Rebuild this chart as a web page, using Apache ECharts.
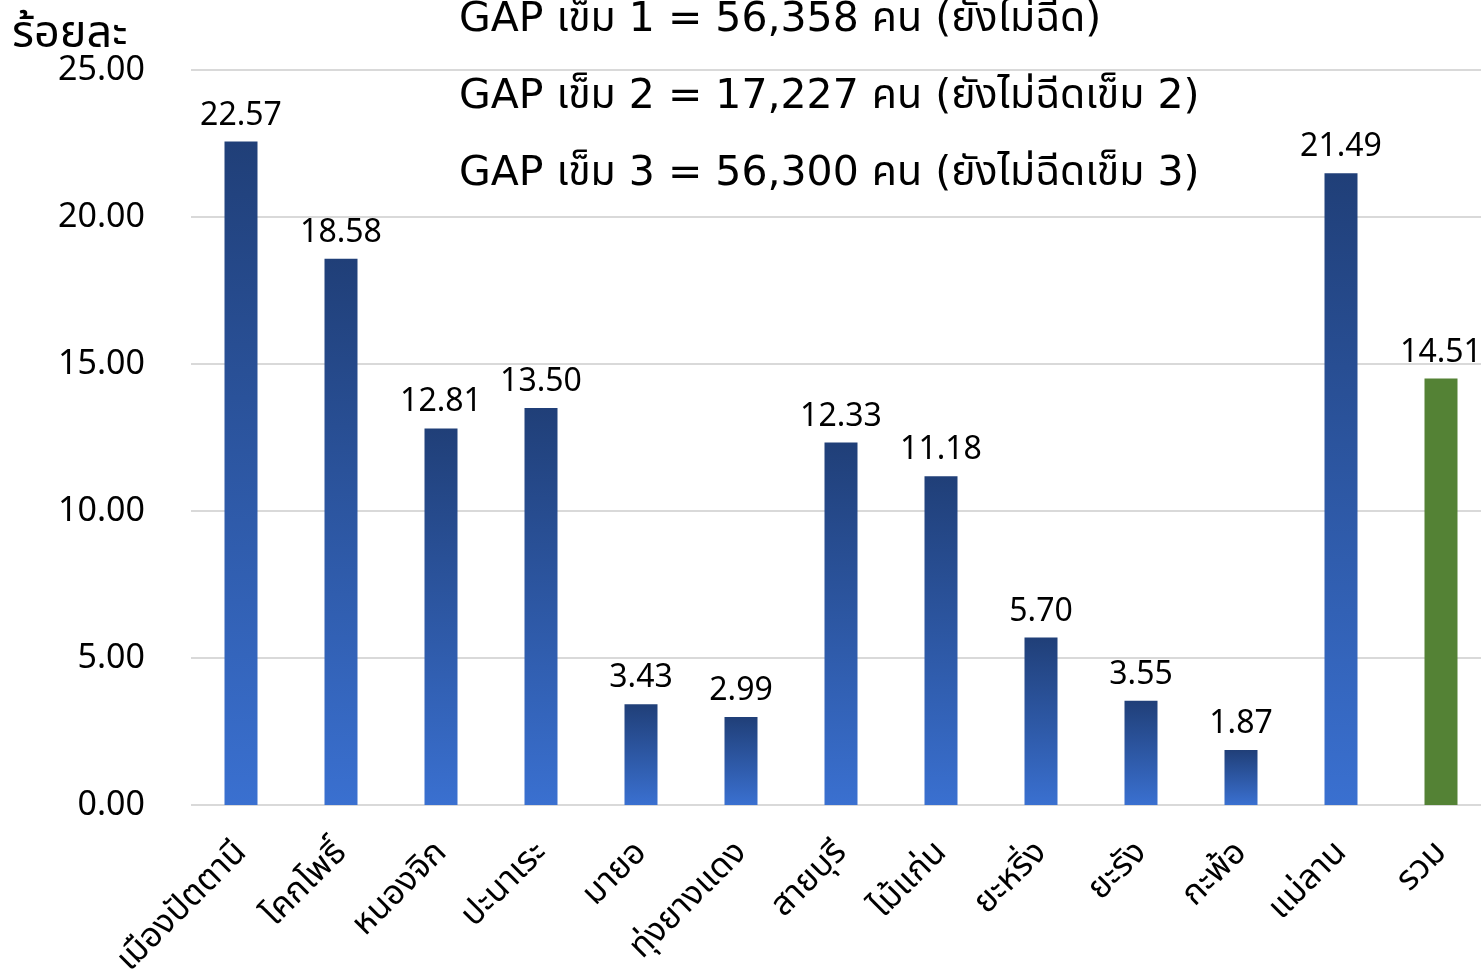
<!DOCTYPE html>
<html>
<head>
<meta charset="utf-8">
<script src="https://cdn.jsdelivr.net/npm/echarts@6/dist/echarts.min.js"></script>
<style>
  html, body { margin: 0; padding: 0; background: #fff; }
  #chart { width: 1481px; height: 975px; }
</style>
</head>
<body>
<div id="chart"></div>
<script>
// district names (x axis)
const districts = ['เมืองปัตตานี', 'โคกโพธิ์', 'หนองจิก', 'ปะนาเระ', 'มายอ', 'ทุ่งยางแดง',
  'สายบุรี', 'ไม้แก่น', 'ยะหริ่ง', 'ยะรัง', 'กะพ้อ', 'แม่ลาน', 'รวม'];
// percent not yet vaccinated
const percentValues = [22.57, 18.58, 12.81, 13.50, 3.43, 2.99, 12.33, 11.18, 5.70, 3.55, 1.87, 21.49, 14.51];
const yTicks = [0, 5, 10, 15, 20, 25];
const gapLines = [
  'GAP เข็ม 1 = 56,358 คน (ยังไม่ฉีด)',
  'GAP เข็ม 2 = 17,227 คน (ยังไม่ฉีดเข็ม 2)',
  'GAP เข็ม 3 = 56,300 คน (ยังไม่ฉีดเข็ม 3)'
];

const fontFam = '"Noto Sans", "Noto Sans Thai", "Leelawadee UI", sans-serif';
const wideFam = '"DejaVu Sans", "Noto Sans Thai", sans-serif';

const blueGrad = new echarts.graphic.LinearGradient(0, 0, 0, 1, [
  { offset: 0, color: '#203f78' },
  { offset: 1, color: '#3a70d0' }
]);

const chart = echarts.init(document.getElementById('chart'));

const option = {
  backgroundColor: '#fff',
  animation: false,
  textStyle: { fontFamily: fontFam },
  grid: {
    left: 191,
    top: 70,
    width: 1300,
    bottom: 170,
    outerBoundsMode: 'none'
  },
  graphic: [
    {
      type: 'text',
      left: 12,
      top: 12,
      style: { text: 'ร้อยละ', fontSize: 45, fontFamily: fontFam, fill: '#000' }
    }
  ].concat(gapLines.map((t, i) => ({
    type: 'text',
    left: 459,
    top: 0 + i * 77,
    style: { text: t, fontSize: 41, fontFamily: wideFam, fill: '#000' }
  }))),
  xAxis: {
    type: 'category',
    data: districts,
    axisLine: { show: false },
    axisTick: { show: false },
    axisLabel: {
      rotate: 45,
      margin: 42,
      fontSize: 34,
      color: '#000',
      interval: 0
    }
  },
  yAxis: {
    type: 'value',
    min: yTicks[0],
    max: yTicks[yTicks.length - 1],
    interval: 5,
    axisLine: { show: false },
    axisTick: { show: false },
    splitLine: { lineStyle: { color: '#d9d9d9', width: 2 } },
    axisLabel: {
      margin: 46,
      fontSize: 34,
      color: '#000',
      formatter: v => v.toFixed(2)
    }
  },
  series: [{
    type: 'bar',
    barWidth: 33,
    data: percentValues.map((v, i) => ({
      value: v,
      itemStyle: { color: i === percentValues.length - 1 ? '#548235' : blueGrad }
    })),
    label: {
      show: true,
      position: 'top',
      distance: 10,
      fontSize: 32,
      color: '#000',
      formatter: p => p.value.toFixed(2)
    }
  }]
};

chart.setOption(option);
</script>
</body>
</html>
